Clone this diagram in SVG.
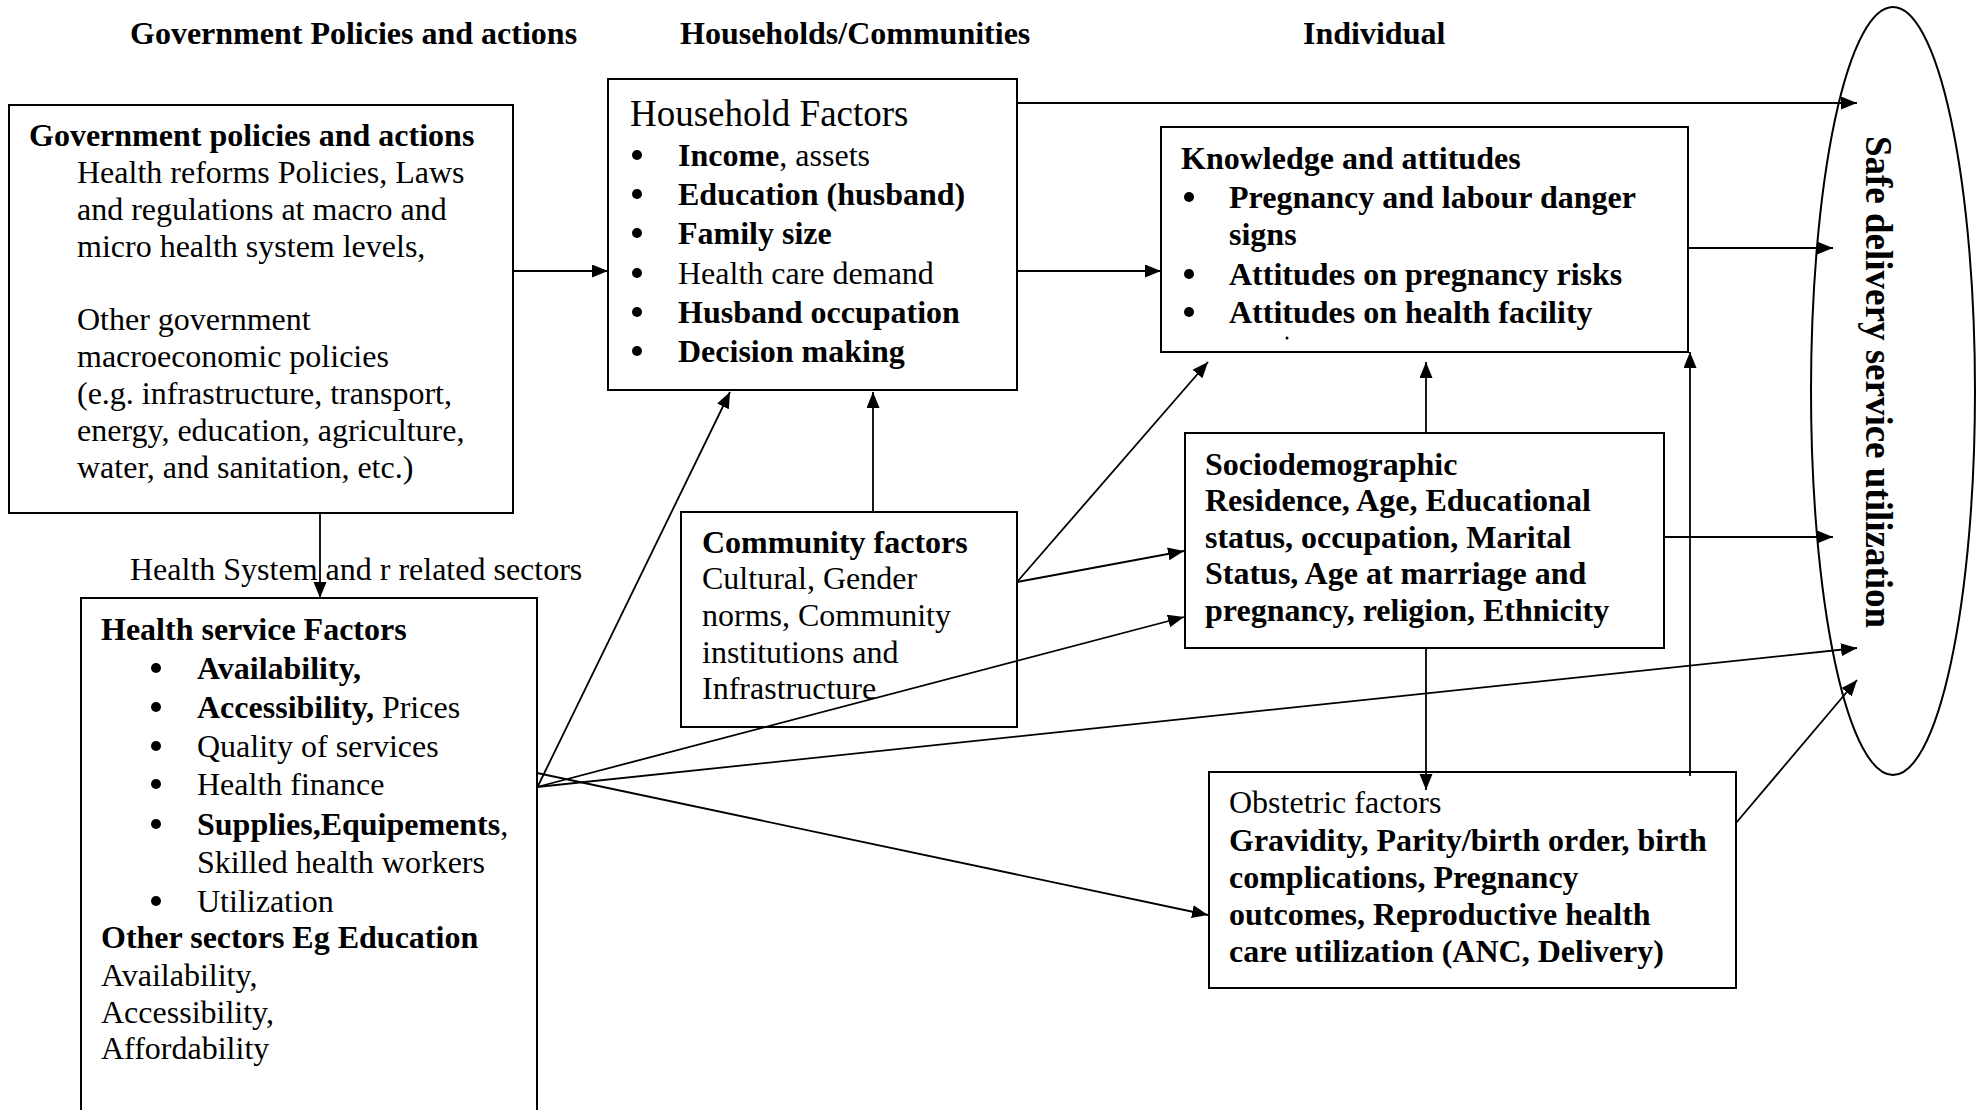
<svg xmlns="http://www.w3.org/2000/svg" width="1983" height="1110" viewBox="0 0 1983 1110">
<style>
.bx{fill:#fff;stroke:#000;stroke-width:2}
.t{font-family:"Liberation Serif","Times New Roman",serif;font-size:32px;fill:#000}
.b{font-weight:bold}
.c{stroke:#000;stroke-width:1.8;fill:none;marker-end:url(#ah)}
.dot{fill:#000}
</style>
<defs>
<marker id="ah" markerUnits="userSpaceOnUse" markerWidth="17" markerHeight="14" refX="16" refY="6.5" orient="auto">
<path d="M0,0 L16,6.5 L0,13 z" fill="#000"/>
</marker>
</defs>
<rect width="1983" height="1110" fill="#fff"/>

<g id="headers" class="t b">
<text x="130" y="44">Government Policies and actions</text>
<text x="680" y="44">Households/Communities</text>
<text x="1303" y="44">Individual</text>
</g>

<g id="gov">
<rect class="bx" x="9" y="105" width="504" height="408"/>
<text class="t b" x="29" y="146">Government policies and actions</text>
<text class="t" x="77" y="183">Health reforms Policies, Laws</text>
<text class="t" x="77" y="220">and regulations at macro and</text>
<text class="t" x="77" y="257">micro health system levels,</text>
<text class="t" x="77" y="330">Other government</text>
<text class="t" x="77" y="367">macroeconomic policies</text>
<text class="t" x="77" y="404">(e.g. infrastructure, transport,</text>
<text class="t" x="77" y="441">energy, education, agriculture,</text>
<text class="t" x="77" y="478">water, and sanitation, etc.)</text>
</g>

<g id="household">
<rect class="bx" x="608" y="79" width="409" height="311"/>
<text class="t" x="630" y="126" style="font-size:37px">Household Factors</text>
<g class="dot"><circle cx="637" cy="155" r="5"/><circle cx="637" cy="194" r="5"/><circle cx="637" cy="233" r="5"/><circle cx="637" cy="273" r="5"/><circle cx="637" cy="312" r="5"/><circle cx="637" cy="351" r="5"/></g>
<text class="t" x="678" y="166"><tspan class="b">Income</tspan>, assets</text>
<text class="t b" x="678" y="205">Education (husband)</text>
<text class="t b" x="678" y="244">Family size</text>
<text class="t" x="678" y="284">Health care demand</text>
<text class="t b" x="678" y="323">Husband occupation</text>
<text class="t b" x="678" y="362">Decision making</text>
</g>

<g id="knowledge">
<rect class="bx" x="1161" y="127" width="527" height="225"/>
<text class="t b" x="1181" y="169">Knowledge and attitudes</text>
<g class="dot"><circle cx="1189" cy="197" r="5"/><circle cx="1189" cy="274" r="5"/><circle cx="1189" cy="312" r="5"/></g>
<text class="t b" x="1229" y="208">Pregnancy and labour danger</text>
<text class="t b" x="1229" y="245">signs</text>
<text class="t b" x="1229" y="285">Attitudes on pregnancy risks</text>
<text class="t b" x="1229" y="323">Attitudes on health facility</text>
<circle class="dot" cx="1287" cy="338" r="1.5"/>
</g>

<g id="community">
<rect class="bx" x="681" y="512" width="336" height="215"/>
<text class="t b" x="702" y="553">Community factors</text>
<text class="t" x="702" y="589">Cultural, Gender</text>
<text class="t" x="702" y="626">norms, Community</text>
<text class="t" x="702" y="663">institutions and</text>
<text class="t" x="702" y="699">Infrastructure</text>
</g>

<g id="sociodemographic">
<rect class="bx" x="1185" y="433" width="479" height="215"/>
<text class="t b" x="1205" y="475">Sociodemographic</text>
<text class="t b" x="1205" y="511">Residence, Age, Educational</text>
<text class="t b" x="1205" y="548">status, occupation, Marital</text>
<text class="t b" x="1205" y="584">Status, Age at marriage and</text>
<text class="t b" x="1205" y="621">pregnancy, religion, Ethnicity</text>
</g>

<g id="health-service">
<rect class="bx" x="81" y="598" width="456" height="600"/>
<text class="t b" x="101" y="640">Health service Factors</text>
<g class="dot"><circle cx="156" cy="668" r="5"/><circle cx="156" cy="707" r="5"/><circle cx="156" cy="746" r="5"/><circle cx="156" cy="784" r="5"/><circle cx="156" cy="824" r="5"/><circle cx="156" cy="901" r="5"/></g>
<text class="t b" x="197" y="679">Availability,</text>
<text class="t" x="197" y="718"><tspan class="b">Accessibility,</tspan> Prices</text>
<text class="t" x="197" y="757">Quality of services</text>
<text class="t" x="197" y="795">Health finance</text>
<text class="t" x="197" y="835"><tspan class="b">Supplies,Equipements</tspan>,</text>
<text class="t" x="197" y="873">Skilled health workers</text>
<text class="t" x="197" y="912">Utilization</text>
<text class="t b" x="101" y="948">Other sectors Eg Education</text>
<text class="t" x="101" y="986">Availability,</text>
<text class="t" x="101" y="1023">Accessibility,</text>
<text class="t" x="101" y="1059">Affordability</text>
</g>

<g id="obstetric">
<rect class="bx" x="1209" y="772" width="527" height="216"/>
<text class="t" x="1229" y="813">Obstetric factors</text>
<text class="t b" x="1229" y="851">Gravidity, Parity/birth order, birth</text>
<text class="t b" x="1229" y="888">complications, Pregnancy</text>
<text class="t b" x="1229" y="925">outcomes, Reproductive health</text>
<text class="t b" x="1229" y="962">care utilization (ANC, Delivery)</text>
</g>

<g id="outcome">
<ellipse cx="1893" cy="391" rx="82" ry="384" fill="none" stroke="#000" stroke-width="2"/>
<text class="t b" transform="translate(1866,382) rotate(90)" text-anchor="middle" style="font-size:37px">Safe delivery service utilization</text>
</g>

<g id="label">
<text class="t" x="130" y="580">Health System and r related sectors</text>
</g>

<g id="connectors">
<line class="c" x1="513" y1="271" x2="608" y2="271"/>
<line class="c" x1="1017" y1="103" x2="1857" y2="103"/>
<line class="c" x1="1017" y1="271" x2="1161" y2="271"/>
<line class="c" x1="1688" y1="248" x2="1833" y2="248"/>
<line class="c" x1="1664" y1="537" x2="1833" y2="537"/>
<line class="c" x1="537" y1="787" x2="1857" y2="648"/>
<line class="c" x1="1736" y1="823" x2="1857" y2="680"/>
<line class="c" x1="320" y1="513" x2="320" y2="598"/>
<line class="c" x1="538" y1="786" x2="730" y2="392"/>
<line class="c" x1="873" y1="512" x2="873" y2="392"/>
<line class="c" x1="1017" y1="582" x2="1208" y2="362"/>
<line class="c" x1="1017" y1="582" x2="1184" y2="551"/>
<line class="c" x1="537" y1="787" x2="1184" y2="617"/>
<line class="c" x1="537" y1="773" x2="1208" y2="915"/>
<line class="c" x1="1426" y1="433" x2="1426" y2="362"/>
<line class="c" x1="1426" y1="648" x2="1426" y2="790"/>
<line class="c" x1="1690" y1="776" x2="1690" y2="352"/>
</g>
</svg>
